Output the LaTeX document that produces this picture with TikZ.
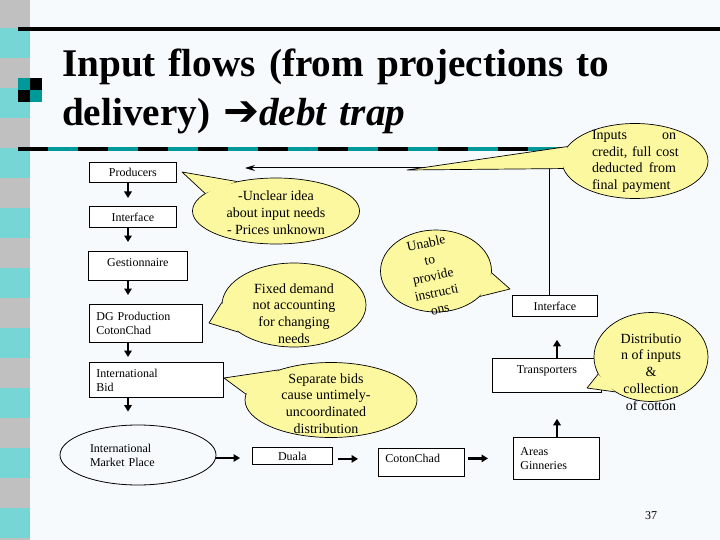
\documentclass[tikz,border=0pt]{standalone}
\usepackage{fontspec}
\setmainfont{Liberation Serif}
\newfontfamily\djv{DejaVu Sans}
\usetikzlibrary{arrows.meta,shapes.geometric,calc}
\definecolor{bgc}{RGB}{246,250,252}
\definecolor{stripgray}{RGB}{192,192,192}
\definecolor{stripcyan}{RGB}{118,214,214}
\definecolor{tealc}{RGB}{0,153,153}
\definecolor{calloutfill}{RGB}{252,248,160}
\begin{document}
\begin{tikzpicture}[x=1pt,y=-1pt,
  box/.style={draw, fill=white, line width=0.8pt, font=\fontsize{12}{14}\selectfont, inner sep=0pt, anchor=north west},
  lbox/.style={box, align=left, inner xsep=7pt},
  callout/.style={ellipse, draw, fill=calloutfill, line width=0.7pt, inner sep=0pt},
  ctext/.style={font=\fontsize{14}{16.8}\selectfont, align=center, inner sep=0pt},
  flow/.style={line width=2.2pt, -{Triangle[length=6.5pt,width=7.5pt]}},
  wedgeline/.style={line width=0.7pt, line join=round},
]
\useasboundingbox (0,0) rectangle (720,540);
\fill[bgc] (0,0) rectangle (720,540);
% left stripe
\foreach \i in {0,...,18}{
  \ifodd\i \def\sc{stripcyan}\else\def\sc{stripgray}\fi
  \fill[\sc] (0,{30*\i-2}) rectangle (30,{30*\i+28});
}
% top rule
\draw[line width=4.5pt] (18,29) -- (720,29);
% bullet
\fill[tealc] (18,78) rectangle (30,90);
\fill[black] (30,78) rectangle (42,90);
\fill[black] (18,90) rectangle (30,102);
\fill[tealc] (30,90) rectangle (42,102);
% title
\node[anchor=base west, text width=640pt, align=left, inner sep=0pt,
      font=\fontsize{39.2}{49}\selectfont\bfseries] (title) at (62,77)
  {Input flows (from projections to\\delivery) {\djv\mdseries\fontsize{43}{49}\selectfont ➔}\textit{debt trap}};
% second rule
\draw[line width=4pt] (18,149) -- (600,149);
\draw[line width=4pt, tealc, dash pattern=on 30pt off 30pt] (48,149) -- (600,149);

% left column
\node[box, minimum width=87pt, minimum height=20pt] (prod) at (89,162) {Producers};
\node[box, minimum width=87pt, minimum height=21pt] (ifc) at (89,206) {Interface};
\node[box, minimum width=99pt, minimum height=29pt, text depth=6pt] (gest) at (88,251) {Gestionnaire};
\node[lbox, text width=99pt, minimum height=38pt] (dg) at (89,304) {DG Production\\CotonChad};
\node[lbox, text width=120pt, minimum height=35pt] (ib) at (89,362) {International\\Bid};
\node[ellipse, draw, line width=0.8pt, minimum width=156pt, minimum height=60pt, inner sep=0pt,
      font=\fontsize{12}{14}\selectfont, align=left, text width=96pt] (imp) at (138,455) {International\\Market Place};

% bottom row and right column
\node[box, minimum width=80pt, minimum height=17pt] (duala) at (252,447) {Duala};
\node[lbox, text width=72pt, minimum height=28pt, text depth=8pt] (coton) at (378,448) {CotonChad};
\node[lbox, text width=72pt, minimum height=42pt] (areas) at (513,437) {Areas\\Ginneries};
\node[box, minimum width=109pt, minimum height=34pt, text depth=12.6pt] (trans) at (492,358) {Transporters};
\node[box, minimum width=85pt, minimum height=21pt] (ifc2) at (512,295) {Interface};

% flow arrows
\coordinate (colx) at (128,0);
\draw[flow, shorten >=8pt] (prod.south -| colx) -- (ifc.north -| colx);
\draw[flow, shorten >=9pt] (ifc.south -| colx) -- (gest.north -| colx);
\draw[flow, shorten >=9pt] (gest.south -| colx) -- (dg.north -| colx);
\draw[flow, shorten >=5pt] (dg.south -| colx) -- (ib.north -| colx);
\draw[flow, shorten >=13pt] (ib.south -| colx) -- (imp.north -| colx);
\draw[flow, shorten >=12pt] ([yshift=-3pt]imp.east) -- ([yshift=-3pt]imp.east -| duala.west);
\draw[flow, shorten <=5pt, shorten >=20pt] ([yshift=-3pt]duala.east) -- ([yshift=-3pt]duala.east -| coton.west);
\draw[flow, shorten <=3pt, shorten >=25pt] (coton.east |- areas.west) -- (areas.west);
\coordinate (rcolx) at (557,0);
\draw[flow, shorten >=26pt] (areas.north -| rcolx) -- (trans.south -| rcolx);
\draw[flow, shorten >=23pt] (trans.north -| rcolx) -- (ifc2.south -| rcolx);

% feedback line
\coordinate (fbx) at (549,0);
\coordinate (fbend) at (245,168);
\draw[line width=1pt, -{Stealth[length=10pt,width=6pt]}] (ifc2.north -| fbx) -- (fbend -| fbx) -- (fbend);

% callouts
\node[callout, minimum width=146pt, minimum height=75pt] (c1) at (635,161) {};
\coordinate (c1tip) at (407,170);
\fill[calloutfill] (c1.168) -- (c1tip) -- (c1.186) -- cycle;
\draw[wedgeline] (c1.168) -- (c1tip) -- (c1.186);
\node[ctext, text width=92pt, align=left] (t1) at (638,161.5)
  {\makebox[84pt][l]{Inputs\hfill on}\\credit, full cost\\\makebox[84pt][l]{deducted\hfill from}\\final payment};

\node[callout, minimum width=167pt, minimum height=66pt] (c2) at (276,211) {};
\coordinate (c2tip) at (182,172);
\fill[calloutfill] (c2.143) -- (c2tip) -- (c2.166) -- cycle;
\draw[wedgeline] (c2.143) -- (c2tip) -- (c2.166);
\node[ctext] (t2) at (276,213) {-Unclear idea\\about input needs\\- Prices unknown};

\node[callout, minimum width=144pt, minimum height=84pt] (c3) at (294,305) {};
\coordinate (c3tip) at (209,323);
\fill[calloutfill] (c3.178) -- (c3tip) -- (c3.206) -- cycle;
\draw[wedgeline] (c3.178) -- (c3tip) -- (c3.206);
\node[ctext] (t3) at (294,313.5) {Fixed demand\\not accounting\\for changing\\needs};

\node[callout, minimum width=172pt, minimum height=75pt] (c4) at (331,400) {};
\coordinate (c4tip) at (224,378);
\fill[calloutfill] (c4.150) -- (c4tip) -- (c4.176) -- cycle;
\draw[wedgeline] (c4.150) -- (c4tip) -- (c4.176);
\node[ctext] (t4) at (326,403.5) {Separate bids\\cause untimely-\\uncoordinated\\distribution};

\node[callout, minimum width=111pt, minimum height=82pt] (c5) at (436,271) {};
\coordinate (c5tip) at (510,289);
\fill[calloutfill] (c5.358) -- (c5tip) -- (c5.330) -- cycle;
\draw[wedgeline] (c5.358) -- (c5tip) -- (c5.330);
\node[ctext, rotate=12, font=\fontsize{13.5}{16.8}\selectfont] (t5) at (433,276) {Unable\\to\\provide\\instructi\\ons};

\node[callout, minimum width=114pt, minimum height=89pt] (c6) at (651,357) {};
\coordinate (c6tip) at (587,388);
\fill[calloutfill] (c6.198) -- (c6tip) -- (c6.224) -- cycle;
\draw[wedgeline] (c6.198) -- (c6tip) -- (c6.224);
\node[ctext] (t6) at (651,372) {Distributio\\n of inputs\\\&\\collection\\of cotton};

% page number
\node[font=\fontsize{12}{14}\selectfont, inner sep=0pt] (pg) at (651,516) {37};
\end{tikzpicture}
\end{document}
